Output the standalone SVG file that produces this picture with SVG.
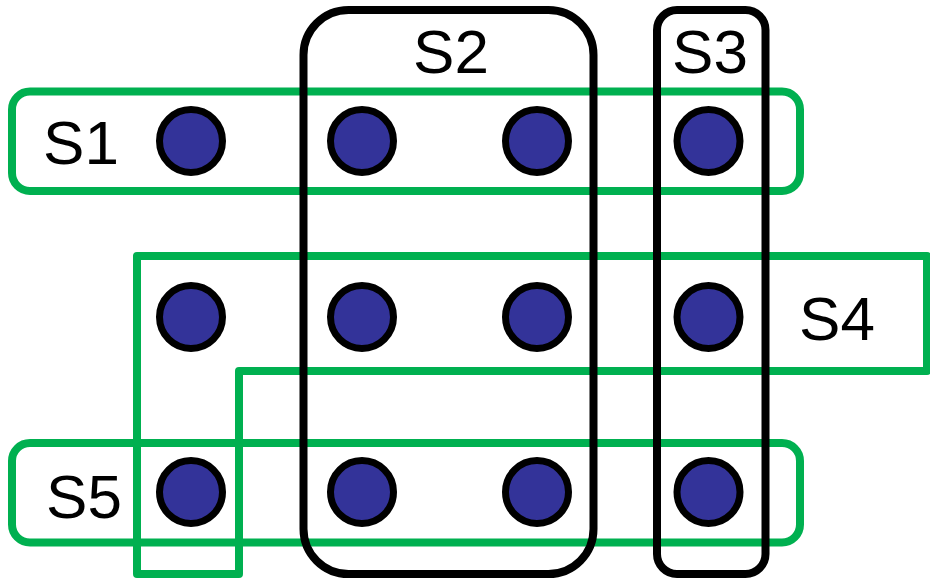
<svg xmlns="http://www.w3.org/2000/svg" width="930" height="579" viewBox="0 0 930 579">
<style>
.g{fill:none;stroke:#00B050;stroke-width:8;stroke-linejoin:round}
.k{fill:none;stroke:#000;stroke-width:8}
.n{fill:#333399;stroke:#000;stroke-width:7}
.t{font-family:"Liberation Sans",Arial,sans-serif;font-size:62px;fill:#000;text-anchor:middle}
</style>
<rect width="930" height="579" fill="#fff"/>
<g id="S1"><rect class="g" x="12" y="91.5" width="788" height="99.5" rx="18"/><text class="t" x="81" y="164">S1</text></g>
<g id="S5"><rect class="g" x="12" y="443" width="788" height="99.5" rx="18"/><text class="t" x="84" y="518">S5</text></g>
<g id="S4"><polygon class="g" points="137,574 137,256 927,256 927,371 239,371 239,574"/><text class="t" x="837" y="340">S4</text></g>
<g id="S2"><rect class="k" x="303.5" y="10" width="290" height="564" rx="45"/><text class="t" x="451" y="73">S2</text></g>
<g id="S3"><rect class="k" x="657" y="10" width="108.5" height="564" rx="20"/><text class="t" x="710" y="73">S3</text></g>
<g id="nodes">
<circle class="n" cx="191" cy="141" r="31.5"/>
<circle class="n" cx="362" cy="141" r="31.5"/>
<circle class="n" cx="537" cy="141" r="31.5"/>
<circle class="n" cx="708.5" cy="141" r="31.5"/>
<circle class="n" cx="191" cy="317" r="31.5"/>
<circle class="n" cx="362" cy="317" r="31.5"/>
<circle class="n" cx="537" cy="317" r="31.5"/>
<circle class="n" cx="708.5" cy="317" r="31.5"/>
<circle class="n" cx="191" cy="492" r="31.5"/>
<circle class="n" cx="362" cy="492" r="31.5"/>
<circle class="n" cx="537" cy="492" r="31.5"/>
<circle class="n" cx="708.5" cy="492" r="31.5"/>
</g>
<g id="connectors"/>
</svg>
